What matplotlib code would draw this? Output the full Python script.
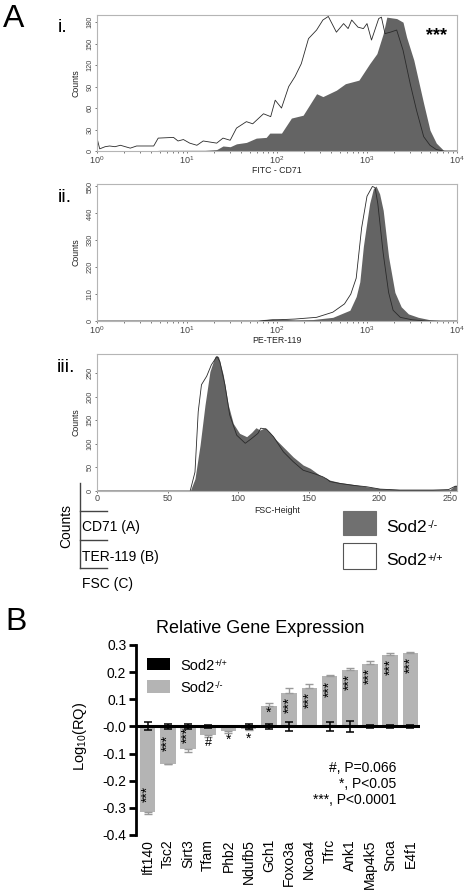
import numpy as np
import matplotlib
matplotlib.use('Agg')
from matplotlib import pyplot as plt
from matplotlib.patches import Rectangle
from matplotlib.ticker import FixedLocator, FormatStrFormatter, LogLocator, NullFormatter

plt.rcParams['font.family'] = ['Liberation Sans', 'DejaVu Sans']
plt.rcParams['mathtext.fontset'] = 'custom'
plt.rcParams['mathtext.rm'] = 'Liberation Sans'
plt.rcParams['mathtext.it'] = 'Liberation Sans:italic'
plt.rcParams['mathtext.bf'] = 'Liberation Sans:bold'

# ---- A.i  FITC - CD71 (x as log10 of channel) ----
cd71_ko_log = [0.0, 0.6, 0.7, 1.2, 1.33, 1.40, 1.48, 1.55, 1.66, 1.77, 1.88, 1.92, 2.05, 2.16, 2.29,
               2.44, 2.51, 2.66, 2.76, 2.91, 3.03, 3.11, 3.18, 3.22, 3.33, 3.40, 3.44, 3.52, 3.63,
               3.70, 3.77, 3.85, 3.92, 4.0]
cd71_ko_counts = [0, 0, 1, 1, 2, 7, 6, 10, 12, 18, 19, 25, 25, 46, 50,
                  80, 76, 85, 94, 99, 122, 136, 164, 187, 185, 180, 159, 127, 66,
                  29, 11, 1, 0, 0]
cd71_wt_log = [0.0, 0.03, 0.09, 0.14, 0.2, 0.26, 0.37, 0.44, 0.63, 0.68, 0.85, 0.9, 0.96, 1.03, 1.11,
               1.18, 1.33, 1.40, 1.48, 1.55, 1.66, 1.73, 1.85, 1.93, 1.98, 2.05, 2.13, 2.20, 2.27,
               2.35, 2.44, 2.51, 2.57, 2.66, 2.74, 2.79, 2.83, 2.90, 2.96, 3.00, 3.05, 3.13, 3.16,
               3.20, 3.26, 3.33, 3.40, 3.48, 3.55, 3.63, 3.70, 3.77, 3.85, 4.0]
cd71_wt_counts = [18, 3, 6, 7, 6, 8, 4, 7, 7, 18, 19, 14, 16, 11, 8,
                  14, 11, 18, 15, 32, 41, 38, 52, 48, 71, 60, 90, 104, 122,
                  157, 169, 183, 188, 166, 178, 171, 183, 173, 171, 178, 155, 185, 187,
                  164, 166, 169, 141, 94, 57, 20, 8, 2, 0, 0]

# ---- A.ii  PE-TER-119 ----
ter_ko_log = [0.0, 1.75, 1.85, 1.95, 2.05, 2.2, 2.4, 2.62, 2.81, 2.88, 2.92, 2.96, 3.0, 3.03, 3.07,
              3.10, 3.14, 3.18, 3.24, 3.31, 3.38, 3.46, 3.57, 3.7, 3.85, 4.0]
ter_ko_counts = [0, 0, 6, 9, 7, 5, 6, 15, 44, 100, 160, 306, 408, 481, 540,
                 552, 520, 452, 262, 117, 58, 29, 15, 5, 1, 0]
ter_wt_log = [0.0, 1.8, 1.95, 2.2, 2.44, 2.62, 2.75, 2.82, 2.88, 2.94, 3.0, 3.06, 3.09, 3.12, 3.18,
              3.24, 3.29, 3.37, 3.5, 3.65, 4.0]
ter_wt_counts = [0, 0, 4, 8, 15, 36, 70, 110, 175, 380, 510, 550, 545, 480, 277,
                 117, 44, 15, 5, 0, 0]

# ---- A.iii  FSC-Height (linear) ----
fsc_ko_x = [0, 66, 69.4, 73, 76.5, 80, 83.6, 86, 89.4, 93, 96.5, 101, 106, 109.5, 112.6, 115.4, 119,
            122.5, 127, 133, 139, 146, 151, 158, 165, 172, 181.5, 191, 200.5, 214.6, 238, 250,
            253.6, 255]
fsc_ko_counts = [0, 0, 26, 97, 182, 253, 285, 285, 246, 182, 143, 122, 115, 124, 134, 129, 134,
                 124, 108, 90, 72, 55, 48, 33, 23, 18, 14, 9, 5, 3, 3, 3,
                 12, 12]
fsc_wt_x = [0, 66, 69.4, 71.7, 74, 77.7, 81, 85, 87, 90.6, 94, 99, 105, 109.5, 114, 116, 120, 125,
            132, 139, 146, 155.6, 160, 163, 165, 172, 181.5, 191, 200.5, 214.6, 238, 249, 253.6, 255]
fsc_wt_counts = [0, 0, 40, 168, 225, 243, 267, 285, 274, 225, 161, 118, 101, 111, 122, 133, 131, 115,
                 83, 62, 44, 35, 30, 25, 20, 16, 12, 9, 4, 2, 2, 3, 10, 10]

# ---- B  relative gene expression ----
genes = ['Ift140', 'Tsc2', 'Sirt3', 'Tfam', 'Phb2', 'Ndufb5', 'Gch1', 'Foxo3a', 'Ncoa4',
         'Tfrc', 'Ank1', 'Map4k5', 'Snca', 'E4f1']
ko_rq = [-0.316, -0.137, -0.083, -0.031, -0.018, -0.010, 0.076, 0.123, 0.142,
         0.184, 0.209, 0.231, 0.263, 0.270]
ko_sem = [0.005, 0.003, 0.013, 0.009, 0.007, 0.003, 0.010, 0.018, 0.013,
          0.005, 0.006, 0.010, 0.007, 0.003]
wt_rq = [0.0] * 14
wt_sem = [0.015, 0.010, 0.008, 0.004, 0.003, 0.008, 0.008, 0.016, 0.003,
          0.018, 0.021, 0.006, 0.006, 0.006]
ko_marks = ['***', '***', '***', '#', '*', '*', '*', '***', '***', '***', '***', '***', '***', '***']

KO_FILL = '#646464'
BAR_GRAY = '#b4b4b4'
W, H = 467, 892


def style_hist(ax, xlabel):
    for s in ax.spines.values():
        s.set_color('#b5b5b5')
        s.set_linewidth(0.8)
    ax.tick_params(axis='both', which='both', colors='#444444', length=1.5, width=0.5, pad=1)
    ax.tick_params(axis='x', labelsize=6.5)
    ax.tick_params(axis='y', labelsize=5.3, labelrotation=90)
    for lab in ax.get_yticklabels():
        lab.set_va('center')
    ax.set_ylabel('Counts', fontsize=6.3, color='#222222')
    ax.yaxis.set_label_coords(-0.047, 0.5)
    ax.set_xlabel(xlabel, fontsize=6.3, color='#222222', va='top')
    ax.xaxis.set_label_coords(0.5, -0.112)


def draw_hist(ax, x_ko, y_ko, x_wt, y_wt):
    ax.fill_between(x_ko, y_ko, color=KO_FILL, lw=0, zorder=1)
    ax.plot(x_wt, y_wt, color='#2a2a2a', lw=0.6, zorder=2)


def sod2_label(ax, x, y, sup, size):
    # "Sod2" with a small raised genotype (plain hyphens, not math minus)
    t = ax.text(x, y, 'Sod2', fontsize=size, va='baseline')
    ax.annotate(sup, xy=(1, 1.0), xycoords=t, xytext=(0.6, 0), textcoords='offset points',
                fontsize=size * 0.62, va='top', ha='left')


fig = plt.figure(figsize=(W / 100, H / 100), dpi=100)

# A.i
ax1 = fig.add_axes([97 / W, 1 - 151 / H, 360 / W, 136 / H])
draw_hist(ax1, 10 ** np.array(cd71_ko_log), cd71_ko_counts, 10 ** np.array(cd71_wt_log), cd71_wt_counts)
ax1.set_xscale('log')
ax1.set_xlim(1, 1e4)
ax1.set_ylim(0, 190)
ax1.yaxis.set_major_locator(FixedLocator([0, 30, 60, 90, 120, 150, 180]))
ax1.xaxis.set_minor_locator(LogLocator(subs=np.arange(2, 10)))
ax1.xaxis.set_minor_formatter(NullFormatter())
style_hist(ax1, 'FITC - CD71')

# A.ii
ax2 = fig.add_axes([97 / W, 1 - 321 / H, 360 / W, 137 / H])
draw_hist(ax2, 10 ** np.array(ter_ko_log), ter_ko_counts, 10 ** np.array(ter_wt_log), ter_wt_counts)
ax2.set_xscale('log')
ax2.set_xlim(1, 1e4)
ax2.set_ylim(0, 560)
ax2.yaxis.set_major_locator(FixedLocator([0, 110, 220, 330, 440, 550]))
ax2.xaxis.set_minor_locator(LogLocator(subs=np.arange(2, 10)))
ax2.xaxis.set_minor_formatter(NullFormatter())
style_hist(ax2, 'PE-TER-119')

# A.iii
ax3 = fig.add_axes([97 / W, 1 - 491 / H, 360 / W, 137 / H])
draw_hist(ax3, fsc_ko_x, fsc_ko_counts, fsc_wt_x, fsc_wt_counts)
ax3.set_xlim(0, 255)
ax3.set_ylim(0, 290)
ax3.xaxis.set_major_locator(FixedLocator([0, 50, 100, 150, 200, 250]))
ax3.yaxis.set_major_locator(FixedLocator([0, 50, 100, 150, 200, 250]))
style_hist(ax3, 'FSC-Height')

# B
axb = fig.add_axes([136 / W, 1 - 835 / H, 284 / W, 190 / H])
x = np.arange(len(genes))
ko = np.array(ko_rq)
ke = np.array(ko_sem)
ko_err = [np.where(ko < 0, ke, 0), np.where(ko > 0, ke, 0)]
axb.bar(x, ko, width=0.77, color=BAR_GRAY, lw=0, zorder=2,
        yerr=ko_err, error_kw=dict(ecolor='#9a9a9a', capsize=3.2, elinewidth=1, capthick=1, zorder=2))
axb.bar(x, wt_rq, width=0.77, color='k', lw=0, zorder=3)
axb.errorbar(x, wt_rq, yerr=wt_sem, fmt='none', ecolor='k', capsize=3.2, elinewidth=1.1,
             capthick=1.1, zorder=4)
axb.axhline(0, color='k', lw=2.2, zorder=5)

# significance marks
mark_pos = [-0.25, -0.06, -0.03, -0.06, -0.049, -0.044, 0.052]
for i, m in enumerate(ko_marks):
    y = mark_pos[i] if i < len(mark_pos) else ko_rq[i] - 0.045
    rot = 90 if m == '***' else 0
    axb.text(i, y, m, rotation=rot, ha='center', va='center', fontsize=10 if m != '#' else 9,
             zorder=6)

axb.set_xlim(-0.57, 13.47)
axb.set_ylim(-0.4, 0.3)
axb.set_yticks(np.arange(-0.4, 0.31, 0.1))
axb.yaxis.set_major_formatter(FormatStrFormatter('%.1f'))
axb.set_xticks(x, genes, rotation=90)
for s in ['top', 'right', 'bottom']:
    axb.spines[s].set_visible(False)
axb.spines['left'].set_linewidth(2)
axb.tick_params(axis='y', length=5, width=2, labelsize=10, pad=2)
axb.tick_params(axis='x', length=0, labelsize=10, pad=3)
axb.set_ylabel('Log$_{10}$(RQ)', fontsize=10.5)
axb.yaxis.set_label_coords(-0.165, 0.52)
axb.set_title('Relative Gene Expression', fontsize=13, x=0.437, pad=8.4)

# overlay in pixel coordinates for panel letters and legends
ov = fig.add_axes([0, 0, 1, 1], facecolor='none')
ov.set_xlim(0, W)
ov.set_ylim(H, 0)
ov.axis('off')

ov.text(3, 27, 'A', fontsize=23, va='baseline')
ov.text(5, 630, 'B', fontsize=23, va='baseline')
ov.text(58, 32, 'i.', fontsize=14, va='baseline')
ov.text(58, 202, 'ii.', fontsize=14, va='baseline')
ov.text(57, 372, 'iii.', fontsize=14, va='baseline')
ov.text(436.5, 40, '***', fontsize=13, fontweight='bold', ha='center', va='baseline')

# bracket legend for the Counts axes
ov.plot([80, 80], [483, 568], color='#444444', lw=1)
for yy in [511, 539.5, 568]:
    ov.plot([80, 107], [yy, yy], color='#444444', lw=1)
ov.text(66.7, 526, 'Counts', fontsize=10, rotation=90, ha='center', va='center')
ov.text(82.5, 531, 'CD71 (A)', fontsize=10, va='baseline')
ov.text(82.5, 560.5, 'TER-119 (B)', fontsize=10, va='baseline')
ov.text(82.5, 588, 'FSC (C)', fontsize=10, va='baseline')

ov.add_patch(Rectangle((342.7, 510.7), 33.3, 24.3, facecolor='#707070', edgecolor='#707070', lw=0.8))
ov.add_patch(Rectangle((342.7, 543.3), 33.3, 26, facecolor='white', edgecolor='#555555', lw=0.8))
sod2_label(ov, 386, 532, '-/-', 12.5)
sod2_label(ov, 386, 565, '+/+', 12.5)

# panel B legend
ov.add_patch(Rectangle((146.7, 657.5), 23.3, 12, facecolor='k', lw=0))
ov.add_patch(Rectangle((146.7, 680), 23.3, 13, facecolor=BAR_GRAY, lw=0))
sod2_label(ov, 180, 669.5, '+/+', 10.5)
sod2_label(ov, 180, 692.5, '-/-', 10.5)

ov.text(396.7, 771.5, '#, P=0.066', fontsize=10, ha='right', va='baseline')
ov.text(396.7, 787.5, '*, P<0.05', fontsize=10, ha='right', va='baseline')
ov.text(396.7, 803.5, '***, P<0.0001', fontsize=10, ha='right', va='baseline')

fig.savefig('out.png', dpi=100)
